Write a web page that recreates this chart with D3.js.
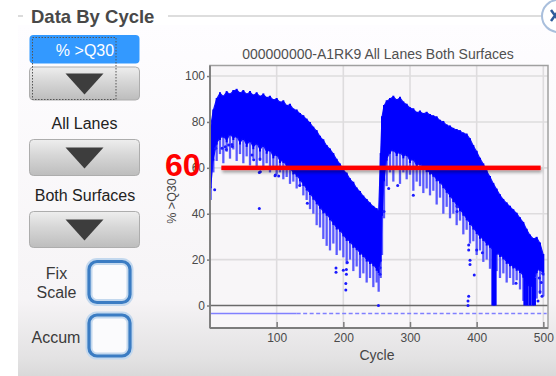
<!DOCTYPE html>
<html><head><meta charset="utf-8">
<script src="https://cdn.jsdelivr.net/npm/d3@7"></script>
<style>
html,body{margin:0;padding:0;background:#fff;}
svg{display:block;font-family:"Liberation Sans",Arial,sans-serif;}
</style></head>
<body><svg id="c" width="556" height="376"></svg>
<script>
// ---------------- data ----------------
const chartTitle = "000000000-A1RK9 All Lanes Both Surfaces";
const xLabel = "Cycle";
const yLabel = "% >Q30";
const xTicks = [100, 200, 300, 400, 500];
const yTicks = [0, 20, 40, 60, 80, 100];

const cycles = [1,5,10,15,20,25,30,35,40,45,50,55,60,65,70,75,80,85,90,95,100,105,110,115,120,125,130,135,140,145,150,155,160,165,170,175,180,185,190,195,200,205,210,215,220,225,230,235,240,245,250,253,
  256,258,261,265,270,275,280,285,290,295,300,305,310,315,320,325,330,335,340,345,350,355,360,365,370,375,380,385,390,395,400,405,410,415,420,425,430,435,440,445,450,455,460,465,470,475,480,485,490,495,500];
// upper edge of the dense band
const topPct = [78,85,90,92.5,91,93,92,93.5,94,92.5,93.5,92,93,91.5,92.5,91,92,90.5,91,89.5,90,88.5,89,87,87.5,85.5,85,83.5,82.5,81,79.5,77.5,76,73.5,72,69.5,68,66,63.5,61.5,59,57.5,55,53.5,51,49.5,47.5,46,44.5,43,42,41,
  66,82,87,89,90,91,89.5,90.5,88.5,87.5,86,85.5,84,84.5,83.5,84,83,82.5,82,80.5,80,78.5,78,77,76.5,76,75,74.5,72.5,69.5,67,64,61.5,58.5,56,53,50.5,48,46,44.5,43,41.5,40,38,36,33,30.5,29,29.5,27,22];
// lower edge of the dark core
const corePct = [52,64,71,73,74,72,75,73,74,71,73,70,72,69,71,68,70,67,68,65,66,63,63,61,60,58,57,55,53,51,49,47,45,43,41,40,38,36,34,33,31,29,28,26,25,23,22,20,19,18,16,15,
  20,40,55,64,67,68,66,67,65,66,63,64,61,62,60,59,58,57,55,54,52,50,48,46,44,42,40,38,36,34,32,30,29,27,26,24,23,22,21,19,18,17,16,15,13,10,8,9,15,16,14];
// lowest reach of the lighter streaks
const lowPct = [46,58,63,66,62,67,64,68,63,66,62,65,61,64,60,63,59,62,58,60,57,58,55,56,53,54,51,52,48,46,42,40,35,34,29,26,24,27,22,24,21,18,20,15,17,12,14,10,12,8,10,6,
  12,22,38,52,58,54,60,53,58,55,57,50,54,52,49,51,48,50,44,47,40,43,38,40,35,37,31,33,27,28,22,24,19,20,16,17,15,12,14,10,12,9,11,7,2,0,0,0,3,5,4];
// isolated full-depth drops: [cycle, low, high]
const spikeCycles = [424, 426, 428, 472, 476, 480, 484, 487];
const spikeLow    = [0, 0, 0, 0, 0, 0, 0, 0];
const spikeHigh   = [33, 38, 34, 14, 12, 11, 10, 12];
// isolated tiles
const outCycles = [7,8.6,18,23,28,33,24.6,33.5,63,65.5,75,74,75.5,74,98,103,97.6,134.6,146,189,189,200,203.7,204.6,204.6,203.7,206,252.7,255,255,261,268,281.5,305,370.6,370.6,388,388,390,390,396.4,400,408.6,459,387,387,388,492,495,497,499,494,498];
const outPct    = [50.5,68.5,68.5,69.2,70,70.2,68,69.3,65.6,63.5,63.9,58,58.3,42.3,56.9,56.4,56.5,52.3,44.6,16.4,14.5,15.4,6.8,15.7,13.6,9.6,18.8,0,13.6,16.5,41,51,52.3,48,43.2,41,26.4,24.2,19.7,17.9,13.3,24.2,23,9.7,0,2,4,2,6,10,14,12,4];
// reference line
const threshold = 60;
const thresholdCycles = [17, 496];
const thresholdLabel = "60";
// marker line under zero
const baseValue = -3.5;
const baseSolidCycles = [0, 130];
const baseDashCycles = [130, 505];

// panel texts
const panelTitle = "Data By Cycle";
const metricName = "% >Q30";
const laneName = "All Lanes";
const surfaceName = "Both Surfaces";

// ---------------- drawing ----------------
const svg = d3.select("#c");
const defs = svg.append("defs");

const pg = defs.append("linearGradient").attr("id","panelG").attr("gradientUnits","userSpaceOnUse")
  .attr("x1",0).attr("y1",25).attr("x2",0).attr("y2",376);
[[0,"#fefdff"],[0.78,"#f6f4f6"],[0.95,"#e3e2e3"],[1,"#d9d9d9"]].forEach(s=>pg.append("stop").attr("offset",s[0]).attr("stop-color",s[1]));
const bg = defs.append("linearGradient").attr("id","btnG").attr("x1",0).attr("y1",0).attr("x2",0).attr("y2",1);
[[0,"#eeeeee"],[0.45,"#d6d6d6"],[1,"#bdbdbd"]].forEach(s=>bg.append("stop").attr("offset",s[0]).attr("stop-color",s[1]));
const sh = defs.append("filter").attr("id","shadow").attr("filterUnits","userSpaceOnUse")
  .attr("x",200).attr("y",150).attr("width",356).attr("height",40);
sh.append("feDropShadow").attr("dx",1).attr("dy",2.5).attr("stdDeviation",1.6).attr("flood-color","#000").attr("flood-opacity",0.35);

// panel
svg.append("rect").attr("x",18).attr("y",25).attr("width",538).attr("height",351).attr("fill","url(#panelG)");
svg.append("line").attr("x1",18).attr("x2",23).attr("y1",16).attr("y2",16).attr("stroke","#cfcfcf").attr("stroke-width",1.5);
svg.append("line").attr("x1",168).attr("x2",545).attr("y1",16).attr("y2",16).attr("stroke","#d2d2d2").attr("stroke-width",1.5);
svg.append("text").attr("x",31).attr("y",22.5).attr("font-size",18.5).attr("font-weight","bold").attr("fill","#484848").text(panelTitle);
svg.append("circle").attr("cx",558).attr("cy",16).attr("r",16).attr("fill","#fff").attr("stroke","#a9bfdc").attr("stroke-width",2);
svg.append("path").attr("d","M551,10 L559,21 M559,10 L551,21").attr("stroke","#2d5b9a").attr("stroke-width",2.5);

// left controls
svg.append("rect").attr("x",29.5).attr("y",35).attr("width",110).attr("height",28.5).attr("rx",4).attr("fill","#3399ff");
svg.append("text").attr("x",85).attr("y",56).attr("text-anchor","middle").attr("font-size",16).attr("fill","#fff").text(metricName);
[[67,100],[139.5,175.5],[211.5,247.5]].forEach(([y0,y1])=>{
  svg.append("rect").attr("x",29.5).attr("y",y0).attr("width",110).attr("height",y1-y0).attr("rx",4)
    .attr("fill","url(#btnG)").attr("stroke","#adadad").attr("stroke-width",1);
  const cy=(y0+y1)/2, cx=84.5;
  svg.append("path").attr("d",`M${cx-19},${cy-10} L${cx+19},${cy-10} L${cx},${cy+11} Z`).attr("fill","#3d3d3d");
});
svg.append("rect").attr("x",32.5).attr("y",37.5).attr("width",83.5).attr("height",62).attr("fill","none")
  .attr("stroke","#555").attr("stroke-width",1).attr("stroke-dasharray","1.5,1.5");
svg.append("text").attr("x",84.5).attr("y",129).attr("text-anchor","middle").attr("font-size",16).attr("fill","#222").text(laneName);
svg.append("text").attr("x",85).attr("y",201).attr("text-anchor","middle").attr("font-size",16).attr("fill","#222").text(surfaceName);
svg.append("text").attr("x",56.5).attr("y",279).attr("text-anchor","middle").attr("font-size",16).attr("fill","#3a3a3a").text("Fix");
svg.append("text").attr("x",56.5).attr("y",298).attr("text-anchor","middle").attr("font-size",16).attr("fill","#3a3a3a").text("Scale");
svg.append("text").attr("x",56).attr("y",343).attr("text-anchor","middle").attr("font-size",16).attr("fill","#3a3a3a").text("Accum");
[[261.5,302.5],[315,356]].forEach(([y0,y1])=>{
  svg.append("rect").attr("x",89).attr("y",y0).attr("width",41).attr("height",y1-y0).attr("rx",8)
    .attr("fill","#fbfbfd").attr("stroke","#c3d8ee").attr("stroke-width",7);
  svg.append("rect").attr("x",89).attr("y",y0).attr("width",41).attr("height",y1-y0).attr("rx",8)
    .attr("fill","none").attr("stroke","#3b7cc3").attr("stroke-width",3.2);
});

// plot
const L=210, R=548, T=65.5, B=328;
const x = d3.scaleLinear().domain([0,507]).range([L,R]);
const y = d3.scaleLinear().domain([-9.8,104.6]).range([B,T]);

svg.append("rect").attr("x",L).attr("y",T).attr("width",R-L).attr("height",B-T).attr("fill","#f8f6f8");
const grid = svg.append("g").attr("stroke","#dedcde").attr("stroke-width",1.6);
grid.selectAll(".gx").data(xTicks).join("line").attr("x1",d=>x(d)).attr("x2",d=>x(d)).attr("y1",T).attr("y2",B);
grid.selectAll(".gy").data(yTicks.filter(d=>d!==0)).join("line").attr("x1",L).attr("x2",R).attr("y1",d=>y(d)).attr("y2",d=>y(d));

// baseline marker
svg.append("line").attr("x1",x(baseSolidCycles[0])).attr("x2",x(baseSolidCycles[1])).attr("y1",y(baseValue)).attr("y2",y(baseValue))
  .attr("stroke","#8080ff").attr("stroke-width",1.6);
svg.append("line").attr("x1",x(baseDashCycles[0])).attr("x2",x(baseDashCycles[1])).attr("y1",y(baseValue)).attr("y2",y(baseValue))
  .attr("stroke","#8080ff").attr("stroke-width",1.6).attr("stroke-dasharray","4,2.5");

// zero line
svg.append("line").attr("x1",L).attr("x2",R).attr("y1",y(0)).attr("y2",y(0)).attr("stroke","#6a6a6a").attr("stroke-width",1.6);

const idx = d3.range(cycles.length);
// lighter streaks
svg.append("g").selectAll("line").data(idx).join("line")
  .attr("x1",i=>x(cycles[i])).attr("x2",i=>x(cycles[i]))
  .attr("y1",i=>y(lowPct[i])).attr("y2",i=>y(corePct[i]))
  .attr("stroke","#4a4aff").attr("stroke-width",2.3).attr("opacity",0.9);
// dense core
svg.append("path").datum(idx)
  .attr("d", d3.area().x(i=>x(cycles[i])).y0(i=>y(corePct[i])).y1(i=>y(topPct[i])).curve(d3.curveLinear))
  .attr("fill","#0000ff").attr("stroke","#1010ff").attr("stroke-width",1.2);
// core-to-top streak texture
svg.append("g").selectAll("line").data(idx).join("line")
  .attr("x1",i=>x(cycles[i])).attr("x2",i=>x(cycles[i]))
  .attr("y1",i=>y(corePct[i])+2).attr("y2",i=>y(topPct[i])-1)
  .attr("stroke","#0000ff").attr("stroke-width",2);
// full-depth drops
svg.append("g").selectAll("line").data(d3.range(spikeCycles.length)).join("line")
  .attr("x1",i=>x(spikeCycles[i])).attr("x2",i=>x(spikeCycles[i]))
  .attr("y1",i=>y(spikeLow[i])).attr("y2",i=>y(spikeHigh[i]))
  .attr("stroke","#0000ff").attr("stroke-width",2.6);
// outliers
svg.append("g").selectAll("circle").data(d3.range(outCycles.length)).join("circle")
  .attr("cx",i=>x(outCycles[i])).attr("cy",i=>y(outPct[i])).attr("r",1.5).attr("fill","#1a1aff");

// frame
svg.append("rect").attr("x",L).attr("y",T).attr("width",R-L).attr("height",B-T).attr("fill","none").attr("stroke","#a0a0a0").attr("stroke-width",1.5);
svg.append("line").attr("x1",L).attr("x2",L).attr("y1",T).attr("y2",B).attr("stroke","#7c7c7c").attr("stroke-width",1.8);
svg.append("line").attr("x1",L).attr("x2",R).attr("y1",B).attr("y2",B).attr("stroke","#7c7c7c").attr("stroke-width",1.8);

// axes
const yAxis = svg.append("g").attr("transform",`translate(${L},0)`)
  .call(d3.axisLeft(y).tickValues(yTicks).tickSize(3).tickPadding(2));
const xAxis = svg.append("g").attr("transform",`translate(0,${B})`)
  .call(d3.axisBottom(x).tickValues(xTicks).tickSizeInner(-6).tickSizeOuter(0).tickPadding(5));
[yAxis,xAxis].forEach(a=>{
  a.select(".domain").remove();
  a.selectAll("line").attr("stroke","#7c7c7c").attr("stroke-width",1.5);
  a.selectAll("text").attr("font-size",12).attr("fill","#4a4a4a").attr("font-family","Liberation Sans, Arial, sans-serif");
});

// titles
svg.append("text").attr("x",378).attr("y",59).attr("text-anchor","middle").attr("font-size",14).attr("fill","#505050").text(chartTitle);
svg.append("text").attr("x",377).attr("y",360).attr("text-anchor","middle").attr("font-size",14).attr("fill","#454545").text(xLabel);
svg.append("text").attr("transform","translate(176,201) rotate(-90)").attr("text-anchor","middle").attr("font-size",12.5).attr("fill","#454545").text(yLabel);

// threshold line
svg.append("rect").attr("x",x(thresholdCycles[0])).attr("y",y(threshold)-2.25)
  .attr("width",x(thresholdCycles[1])-x(thresholdCycles[0])).attr("height",4.5)
  .attr("fill","#ff0000").attr("filter","url(#shadow)");
svg.append("text").attr("x",165).attr("y",y(threshold)+8).attr("font-size",32).attr("font-weight","bold").attr("fill","#ff0000").text(thresholdLabel);
</script>
</body></html>
